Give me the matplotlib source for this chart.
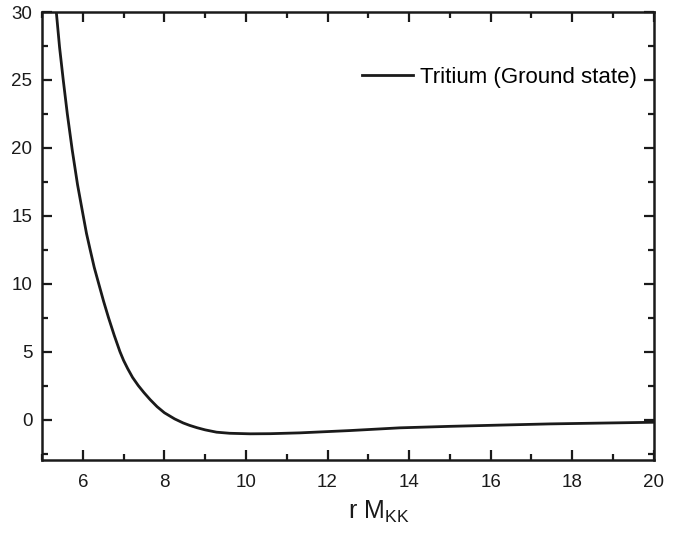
import numpy as np
import matplotlib.pyplot as plt
from matplotlib.ticker import MultipleLocator

plt.rcParams['font.family'] = ['Liberation Sans', 'DejaVu Sans']
plt.rcParams['mathtext.fontset'] = 'custom'
plt.rcParams['mathtext.rm'] = 'Liberation Sans'

# valores
r = [5.35, 5.43, 5.52, 5.62, 5.74, 5.87, 6.01, 6.09, 6.18, 6.28, 6.39, 6.51, 6.63,
     6.77, 6.91, 7.00, 7.10, 7.22, 7.36, 7.50, 7.65, 7.82, 8.0, 8.25, 8.46, 8.62,
     8.8, 9.0, 9.28, 9.6, 10.1, 10.6, 11.32, 12.55, 13.77, 15.0, 16.2, 17.45, 18.7, 20.0]
V = [30.0, 27.4, 25.0, 22.5, 19.85, 17.3, 15.0, 13.7, 12.5, 11.2, 10.0, 8.7, 7.5,
     6.2, 5.0, 4.35, 3.75, 3.1, 2.5, 1.98, 1.47, 0.95, 0.5, 0.05, -0.25, -0.43,
     -0.6, -0.76, -0.93, -1.01, -1.05, -1.04, -0.98, -0.81, -0.61, -0.5, -0.41,
     -0.32, -0.26, -0.2]

fig = plt.figure(figsize=(6.89, 5.34), dpi=100)
ax = fig.add_axes([0.061, 0.138, 0.888, 0.8395])

ax.plot(r, V, color='#1a1a1a', lw=2.0, label='Tritium (Ground state)')

ax.set_xlim(5, 20)
ax.set_ylim(-3, 30)
ax.xaxis.set_major_locator(MultipleLocator(2))
ax.xaxis.set_minor_locator(MultipleLocator(1))
ax.yaxis.set_major_locator(MultipleLocator(5))
ax.yaxis.set_minor_locator(MultipleLocator(2.5))

ax.tick_params(which='both', direction='in', top=True, right=True,
               width=1.6, labelsize=13.5, color='#1a1a1a', labelcolor='#1a1a1a')
ax.tick_params(which='major', length=7)
ax.tick_params(which='minor', length=4)
ax.tick_params(axis='x', which='major', pad=10)
ax.tick_params(axis='y', which='major', pad=7)
for s in ax.spines.values():
    s.set_linewidth(1.8)
    s.set_color('#1a1a1a')

ax.set_xlabel(r'r M$_{\rm KK}$', fontsize=18, color='#1a1a1a')
ax.xaxis.set_label_coords(0.55, -0.085)

ax.legend(loc='center right', frameon=False, fontsize=16, handlelength=2.3,
          handletextpad=0.3, borderpad=0, borderaxespad=0,
          bbox_to_anchor=(0.972, 0.855))

plt.savefig('out.png', dpi=100)
